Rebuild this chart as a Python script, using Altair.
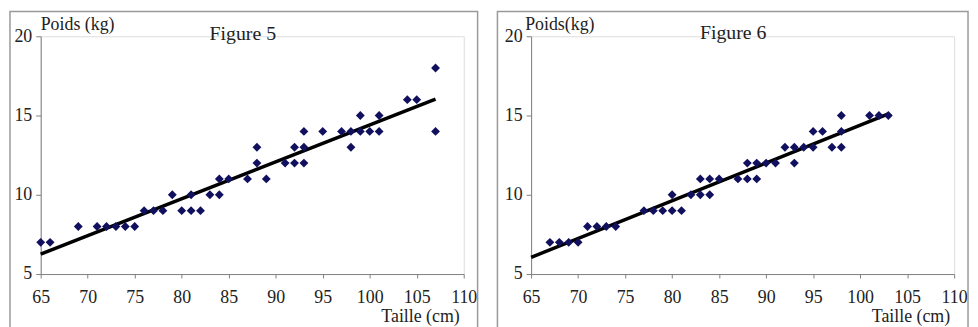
import altair as alt
import pandas as pd

# Figure 5 data
fig5_taille = [65, 66, 69, 71, 72, 73, 74, 75, 76, 77, 78, 79, 80, 81, 81, 82, 83, 84, 84, 85, 87,
               88, 88, 89, 91, 92, 92, 93, 93, 93, 95, 97, 98, 98, 99, 99, 100, 101, 101, 104, 105, 107, 107]
fig5_poids = [7, 7, 8, 8, 8, 8, 8, 8, 9, 9, 9, 10, 9, 9, 10, 9, 10, 10, 11, 11, 11,
              12, 13, 11, 12, 12, 13, 12, 13, 14, 14, 14, 13, 14, 14, 15, 14, 14, 15, 16, 16, 14, 18]

# Figure 6 data
fig6_taille = [67, 68, 69, 70, 71, 72, 73, 74, 77, 78, 79, 80, 81, 80, 82, 83, 84, 83, 84, 85, 87,
               88, 89, 88, 89, 90, 91, 93, 92, 93, 94, 95, 97, 98, 95, 96, 98, 98, 101, 102, 103]
fig6_poids = [7, 7, 7, 7, 8, 8, 8, 8, 9, 9, 9, 9, 9, 10, 10, 10, 10, 11, 11, 11, 11,
              11, 11, 12, 12, 12, 12, 12, 13, 13, 13, 13, 13, 13, 14, 14, 14, 15, 15, 15, 15]

x_ticks = [65, 70, 75, 80, 85, 90, 95, 100, 105, 110]
y_ticks = [5, 10, 15, 20]

FONT = "Liberation Serif"
W, H = 427, 240


def panel(taille, poids, fig_title, y_title, x_title, ext, frame_left, ytitle_dx, fig_dy):
    df = pd.DataFrame({"taille": taille, "poids": poids})
    xs = alt.Scale(domain=[65, 110], nice=False, zero=False)
    ys = alt.Scale(domain=[5, 20], nice=False, zero=False)
    xa = alt.Axis(values=x_ticks, title=None, grid=False, domainColor="#808080", tickColor="#808080",
                  tickSize=4, labelPadding=11, labelFont=FONT, labelFontSize=18, labelColor="#222222",
                  labelFlush=False, labelOverlap=False)
    ya = alt.Axis(values=y_ticks, title=None, grid=False, domainColor="#808080", tickColor="#808080",
                  tickSize=5, labelPadding=4, labelFont=FONT, labelFontSize=18, labelColor="#222222",
                  labelOverlap=False)
    base = alt.Chart(df)
    pts = base.mark_point(shape="diamond", filled=True, size=80, color="#10105e", opacity=1).encode(
        x=alt.X("taille:Q", scale=xs, axis=xa),
        y=alt.Y("poids:Q", scale=ys, axis=ya),
    )
    line = base.transform_regression("taille", "poids", extent=ext).mark_line(
        color="black", strokeWidth=3.5).encode(
        x=alt.X("taille:Q", scale=xs),
        y=alt.Y("poids:Q", scale=ys),
    )
    one = pd.DataFrame({"a": [0]})
    frame = alt.Chart(one).mark_rect(filled=False, color="#9a9a9a", strokeWidth=1.5).encode(
        x=alt.value(frame_left), x2=alt.value(W + 14), y=alt.value(-25), y2=alt.value(H + 60)
    )
    t_fig = alt.Chart(one).mark_text(text=fig_title, font=FONT, fontSize=20, color="#222222",
                                     align="center", baseline="alphabetic").encode(
        x=alt.value(204), y=alt.value(fig_dy))
    t_y = alt.Chart(one).mark_text(text=y_title, font=FONT, fontSize=18, color="#222222",
                                   align="left", baseline="alphabetic").encode(
        x=alt.value(ytitle_dx), y=alt.value(-6))
    t_x = alt.Chart(one).mark_text(text=x_title, font=FONT, fontSize=18, color="#222222",
                                   align="right", baseline="alphabetic").encode(
        x=alt.value(W - 4), y=alt.value(H + 48))
    return alt.layer(frame, line, pts, t_fig, t_y, t_x).properties(width=W, height=H)


p5 = panel(fig5_taille, fig5_poids, "Figure 5", "Poids (kg)", "Taille (cm)", [65, 107], -31, 0, 4)
p6 = panel(fig6_taille, fig6_poids, "Figure 6", "Poids(kg)", "Taille (cm)", [65, 103], -34, -6, 3)

chart = alt.hconcat(p5, p6, spacing=16).properties(padding=0).configure_view(stroke=None) \
    .configure(background="white")

chart.save("out.html", embed_options={"renderer": "svg", "actions": False})
